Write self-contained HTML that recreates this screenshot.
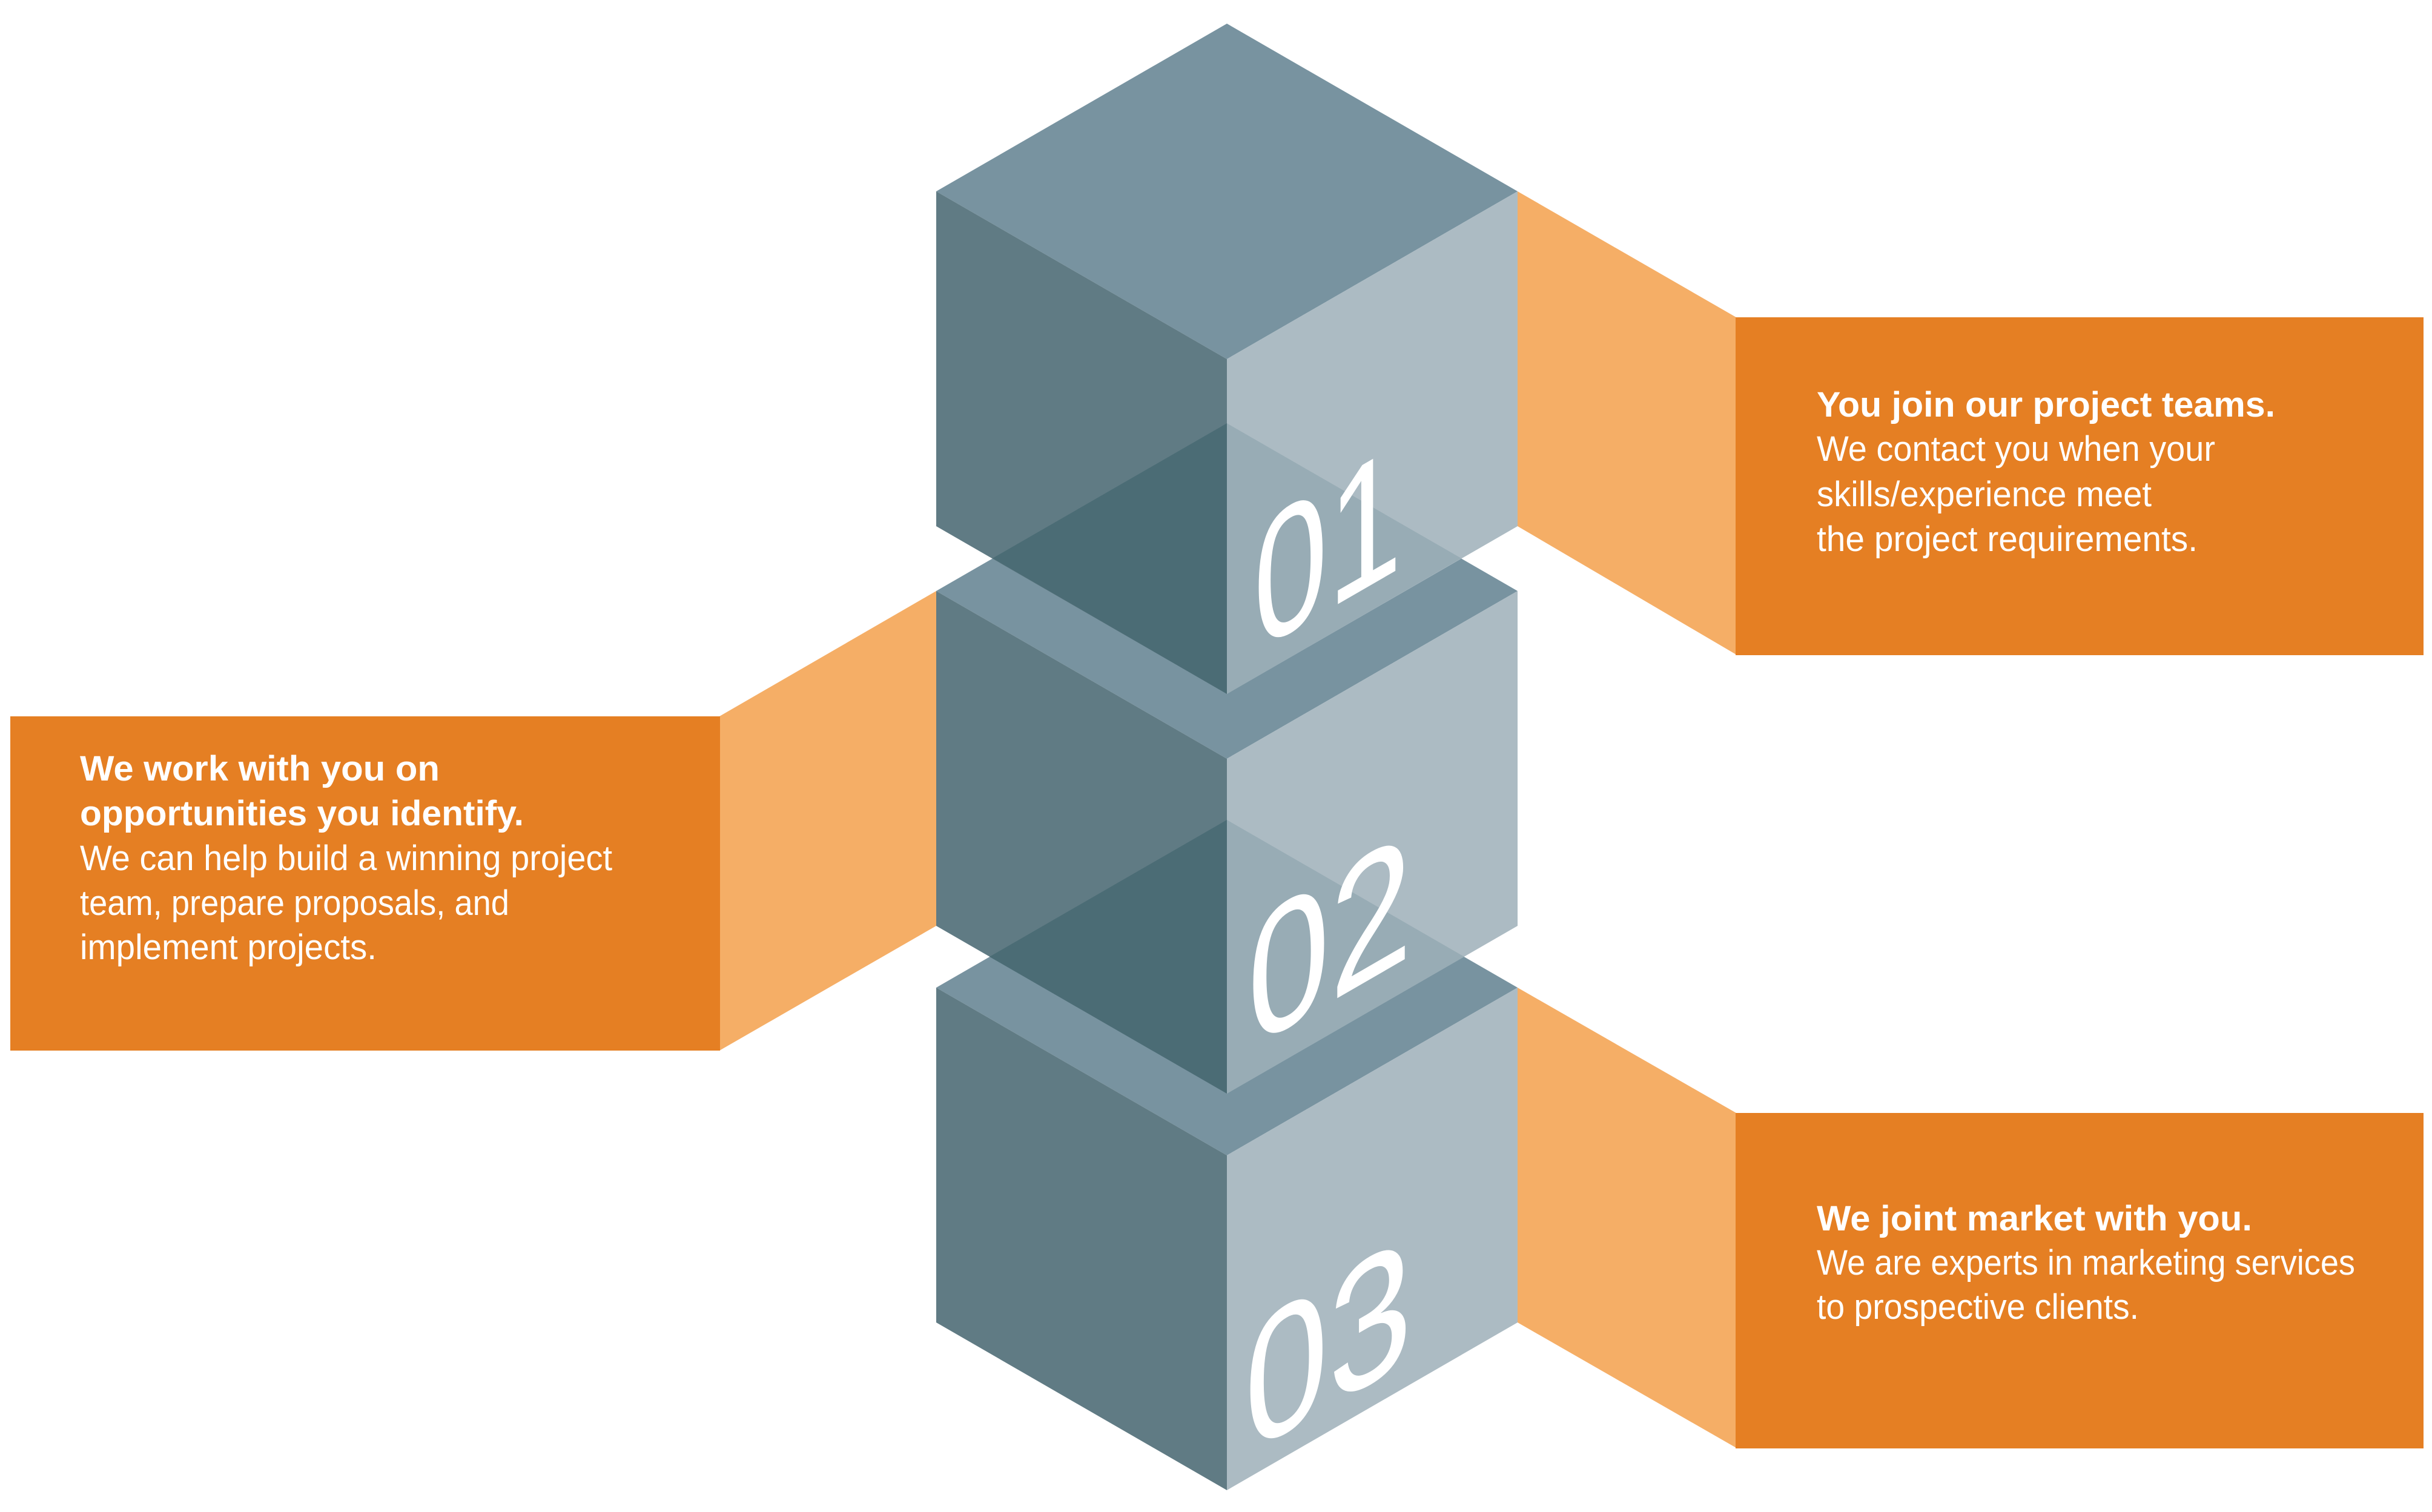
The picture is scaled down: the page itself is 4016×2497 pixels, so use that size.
<!DOCTYPE html>
<html><head><meta charset="utf-8"><style>html,body{margin:0;padding:0;background:#fff}svg{display:block}</style></head>
<body>
<svg width="4016" height="2497" viewBox="0 0 4016 2497" xmlns="http://www.w3.org/2000/svg">
<rect width="4016" height="2497" fill="#fff"/>
<polygon points="2506,316 2867,524 2867,1081 2506,869" fill="#f5ae66"/>
<rect x="2866" y="524" width="1136" height="558" fill="#e57f23"/>
<polygon points="1546,976 1188,1183 1188,1735 1546,1529" fill="#f5ae66"/>
<rect x="17" y="1183" width="1172" height="552" fill="#e57f23"/>
<polygon points="2506,1631 2867,1838 2867,2391 2506,2184" fill="#f5ae66"/>
<rect x="2866" y="1838" width="1136" height="554" fill="#e57f23"/>

<g>
<polygon points="2026,1354 2506,1631 2026,1908 1546,1631" fill="#7893a0"/>
<polygon points="1546,1631 2026,1908 2026,2461 1546,2184" fill="#607b84"/>
<polygon points="2026,1908 2506,1631 2506,2184 2026,2461" fill="#acbbc3"/>
</g>
<g>
<polygon points="2026,699 2506,976 2026,1253 1546,976" fill="#7893a0"/>
<polygon points="1546,976 2026,1253 2026,1806 1546,1529" fill="#607b84"/>
<polygon points="2026,1253 2506,976 2506,1529 2026,1806" fill="#acbbc3"/>
<polygon points="2026,1354 2026,1806 1634,1580" fill="#4b6c75"/>
<polygon points="2026,1354 2418,1580 2026,1806" fill="#98acb5"/>
</g>
<g>
<polygon points="2026,39 2506,316 2026,593 1546,316" fill="#7893a0"/>
<polygon points="1546,316 2026,593 2026,1146 1546,869" fill="#607b84"/>
<polygon points="2026,593 2506,316 2506,869 2026,1146" fill="#acbbc3"/>
<polygon points="2026,699 2026,1146 1639,922" fill="#4b6c75"/>
<polygon points="2026,699 2413,922 2026,1146" fill="#98acb5"/>
</g>

<g fill="#fff" font-family="Liberation Sans, sans-serif" font-size="300">
<g transform="translate(2070,1078) skewY(-30)"><text x="0" y="0" textLength="245" lengthAdjust="spacingAndGlyphs">01</text></g>
<g transform="translate(2060,1734) skewY(-30)"><text x="0" y="0" textLength="272" lengthAdjust="spacingAndGlyphs">02</text></g>
<g transform="translate(2055,2404) skewY(-30)"><text x="0" y="0" textLength="277" lengthAdjust="spacingAndGlyphs">03</text></g>
</g>

<g fill="#fff" font-family="Liberation Sans, sans-serif" font-size="58">
<text x="3000" y="688" font-weight="700" textLength="757" lengthAdjust="spacingAndGlyphs">You join our project teams.</text>
<text x="3000" y="761" textLength="658" lengthAdjust="spacingAndGlyphs">We contact you when your</text>
<text x="3000" y="836" textLength="553" lengthAdjust="spacingAndGlyphs">skills/experience meet</text>
<text x="3000" y="910" textLength="629" lengthAdjust="spacingAndGlyphs">the project requirements.</text>

<text x="132" y="1289" font-weight="700" textLength="594" lengthAdjust="spacingAndGlyphs">We work with you on</text>
<text x="132" y="1363" font-weight="700" textLength="733" lengthAdjust="spacingAndGlyphs">opportunities you identify.</text>
<text x="132" y="1437" textLength="879" lengthAdjust="spacingAndGlyphs">We can help build a winning project</text>
<text x="132" y="1511" textLength="709" lengthAdjust="spacingAndGlyphs">team, prepare proposals, and</text>
<text x="132" y="1584" textLength="490" lengthAdjust="spacingAndGlyphs">implement projects.</text>

<text x="3000" y="2032" font-weight="700" textLength="719" lengthAdjust="spacingAndGlyphs">We joint market with you.</text>
<text x="3000" y="2105" textLength="889" lengthAdjust="spacingAndGlyphs">We are experts in marketing services</text>
<text x="3000" y="2178" textLength="532" lengthAdjust="spacingAndGlyphs">to prospective clients.</text>
</g>
</svg>
</body></html>
